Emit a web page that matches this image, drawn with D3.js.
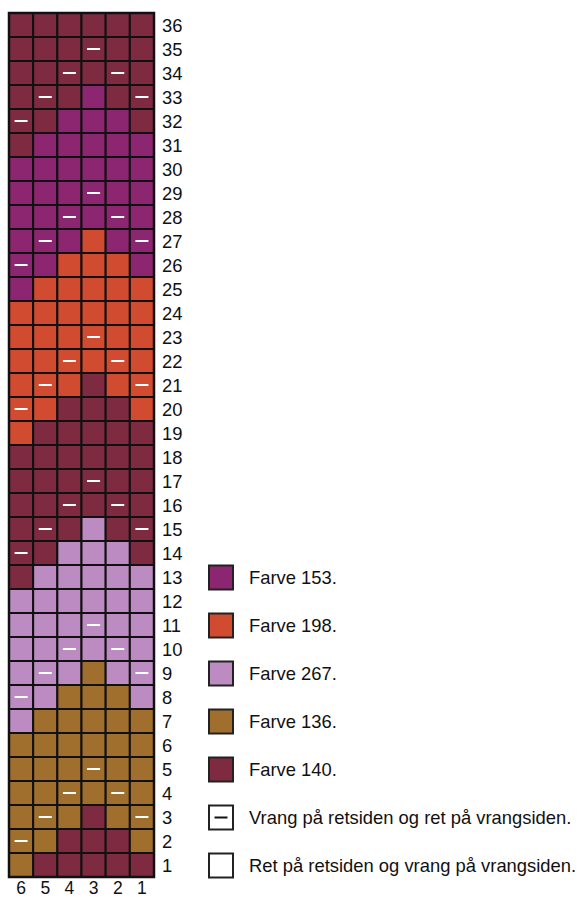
<!DOCTYPE html>
<html lang="da">
<head>
<meta charset="UTF-8">
<title>Mønster</title>
<script src="https://d3js.org/d3.v7.min.js"></script>
<style>
  body { margin: 0; background: #fff; }
  text { font-family: "Liberation Sans", Arial, sans-serif; fill: #111; }
</style>
</head>
<body>
<div id="chart"></div>
<script>
// column labels, left to right
const columns = [6, 5, 4, 3, 2, 1];
// row labels, bottom to top
const rows = d3.range(1, 37);

// colour code per row (row 1 first), one letter per column left to right
const colourRows = [
  "BMMMMM", "BBMMMB", "BBBMBB", "BBBBBB", "BBBBBB", "BBBBBB",
  "LBBBBB", "LLBBBL", "LLLBLL", "LLLLLL", "LLLLLL", "LLLLLL",
  "MLLLLL", "MMLLLM", "MMMLMM", "MMMMMM", "MMMMMM", "MMMMMM",
  "OMMMMM", "OOMMMO", "OOOMOO", "OOOOOO", "OOOOOO", "OOOOOO",
  "POOOOO", "PPOOOP", "PPPOPP", "PPPPPP", "PPPPPP", "PPPPPP",
  "MPPPPP", "MMPPPM", "MMMPMM", "MMMMMM", "MMMMMM", "MMMMMM"
];
// purl stitches per row (row 1 first), "-" = vrang
const purlRows = [
  "......", "-.....", ".-...-", "..-.-.", "...-..", "......",
  "......", "-.....", ".-...-", "..-.-.", "...-..", "......",
  "......", "-.....", ".-...-", "..-.-.", "...-..", "......",
  "......", "-.....", ".-...-", "..-.-.", "...-..", "......",
  "......", "-.....", ".-...-", "..-.-.", "...-..", "......",
  "......", "-.....", ".-...-", "..-.-.", "...-..", "......"
];

const colourKeys = ["P", "O", "L", "B", "M"];
const colourHex = ["#8c2670", "#d04b2f", "#bc8bc2", "#a06e2d", "#7e2a41"];
const legendLabels = [
  "Farve 153.", "Farve 198.", "Farve 267.", "Farve 136.", "Farve 140.",
  "Vrang på retsiden og ret på vrangsiden.",
  "Ret på retsiden og vrang på vrangsiden."
];

const width = 582, height = 897;
const fontSize = 18.4;
const color = d3.scaleOrdinal().domain(colourKeys).range(colourHex);

const x = d3.scaleBand().domain(columns).range([9, 154]);
const y = d3.scaleBand().domain(rows.slice().reverse()).range([13, 877]);

const svg = d3.select("#chart").append("svg")
  .attr("width", width).attr("height", height);

const cells = [];
rows.forEach((r, ri) => {
  columns.forEach((c, ci) => {
    cells.push({ row: r, col: c, key: colourRows[ri][ci], purl: purlRows[ri][ci] === "-" });
  });
});

svg.append("g").selectAll("rect")
  .data(cells)
  .join("rect")
  .attr("x", d => x(d.col))
  .attr("y", d => y(d.row))
  .attr("width", x.bandwidth())
  .attr("height", y.bandwidth())
  .attr("fill", d => color(d.key))
  .attr("stroke", "#111")
  .attr("stroke-width", 2);

svg.append("g").selectAll("line")
  .data(cells.filter(d => d.purl))
  .join("line")
  .attr("x1", d => x(d.col) + x.bandwidth() / 2 - 6.5)
  .attr("x2", d => x(d.col) + x.bandwidth() / 2 + 6.5)
  .attr("y1", d => y(d.row) + y.bandwidth() / 2)
  .attr("y2", d => y(d.row) + y.bandwidth() / 2)
  .attr("stroke", "#fff")
  .attr("stroke-width", 2);

// outer frame
svg.append("rect")
  .attr("x", 9).attr("y", 13)
  .attr("width", 145).attr("height", 864)
  .attr("fill", "none").attr("stroke", "#111").attr("stroke-width", 2.5);

// row numbers
svg.append("g").selectAll("text")
  .data(rows)
  .join("text")
  .attr("x", 162)
  .attr("y", d => y(d) + y.bandwidth() / 2)
  .attr("dy", "0.36em")
  .attr("font-size", fontSize)
  .text(d => d);

// column numbers, tight against the lower edge
svg.append("g").selectAll("text")
  .data(columns)
  .join("text")
  .attr("x", d => x(d) + x.bandwidth() / 2)
  .attr("y", 894)
  .attr("text-anchor", "middle")
  .attr("font-size", 17.5)
  .text(d => d);

// legend
const ly = d3.scalePoint().domain(d3.range(legendLabels.length)).range([577.5, 865.5]);
const legend = svg.append("g").selectAll("g")
  .data(legendLabels)
  .join("g")
  .attr("transform", (d, i) => `translate(208,${ly(i)})`);

legend.append("rect")
  .attr("x", 1).attr("y", -12)
  .attr("width", 24).attr("height", 24)
  .attr("fill", (d, i) => i < colourHex.length ? colourHex[i] : "#fff")
  .attr("stroke", "#222")
  .attr("stroke-width", 2);

legend.filter((d, i) => i === 5).append("line")
  .attr("x1", 6.5).attr("x2", 19.5)
  .attr("y1", 0).attr("y2", 0)
  .attr("stroke", "#111").attr("stroke-width", 2);

legend.append("text")
  .attr("x", 41)
  .attr("dy", "0.36em")
  .attr("font-size", fontSize)
  .text(d => d);
</script>
</body>
</html>
